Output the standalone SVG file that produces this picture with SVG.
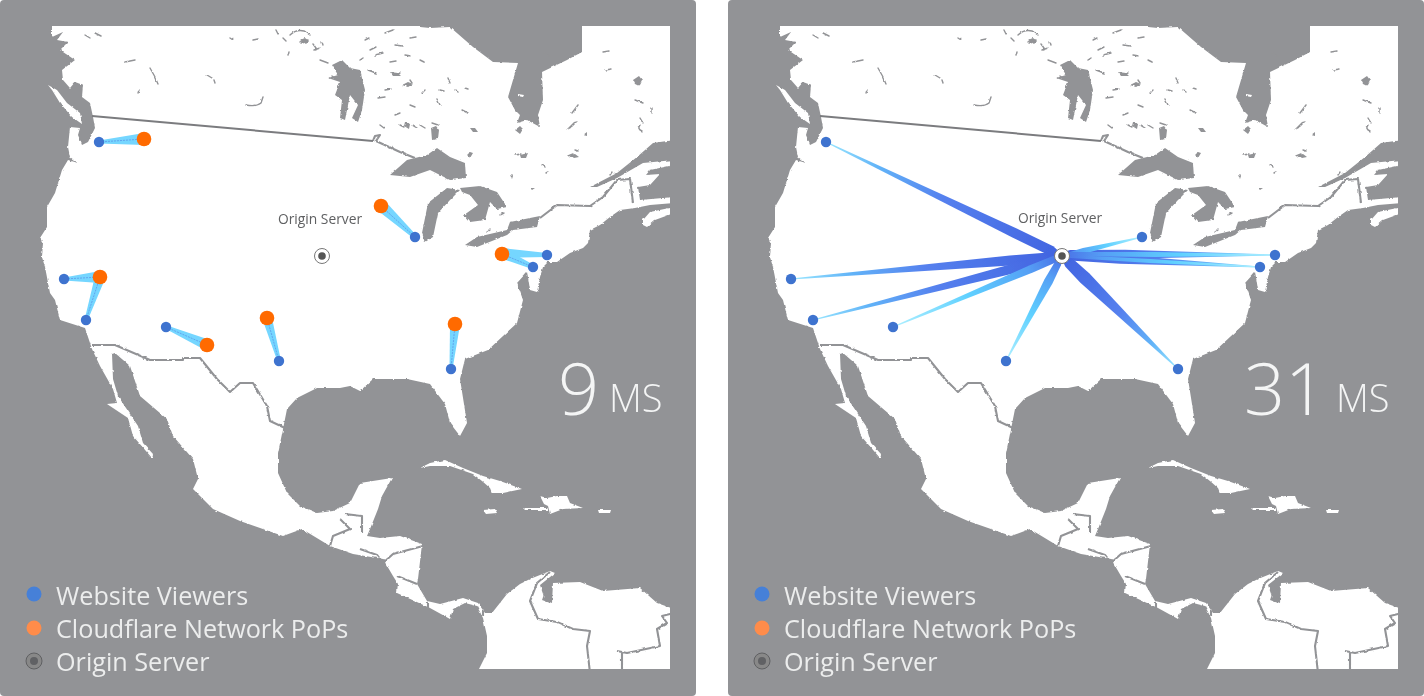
<svg xmlns="http://www.w3.org/2000/svg" width="1424" height="696" viewBox="0 0 1424 696">
<style>
text{font-family:"Open Sans","Liberation Sans",sans-serif}
.panel{fill:#929396}
.land{fill:#fff}
.sea{fill:#929396}
.border{fill:none;stroke:#929396;stroke-width:2.1;stroke-linejoin:round}
.dark{fill:none;stroke:#7b7c7f;stroke-width:2}
.speck{fill:none;stroke:#929396;stroke-width:1.4;stroke-linecap:round}
.lbl{fill:#5f6062;font-size:13.8px}
.leg{fill:#eceded;font-size:25.2px}
.big{fill:#f4f5f5;font-size:72px;font-weight:300}
.ms{fill:#f4f5f5;font-size:38px;font-weight:300}
.v{fill:#3e73cf}
.p{fill:#ff6a00}
.short{fill:#74d6ff}
.core{stroke:#5b8fe6;stroke-width:1;stroke-dasharray:2 1;fill:none;opacity:.7}
</style>
<defs>
<filter id="rough" x="-5%" y="-5%" width="110%" height="110%">
<feTurbulence type="fractalNoise" baseFrequency=".22" numOctaves="2" seed="4" result="n"/>
<feDisplacementMap in="SourceGraphic" in2="n" scale="2.6" xChannelSelector="R" yChannelSelector="G"/>
<feGaussianBlur stdDeviation=".4"/>
</filter>
<filter id="soft" x="-10%" y="-10%" width="120%" height="120%"><feGaussianBlur stdDeviation=".55"/></filter>
<clipPath id="frame"><rect x="30" y="26" width="640" height="643"/></clipPath>
<linearGradient id="beamA" x1="0" y1="0" x2="1" y2="0">
<stop offset="0" stop-color="#9be8ff"/><stop offset=".22" stop-color="#62b4f8"/><stop offset=".5" stop-color="#5580ee"/><stop offset="1" stop-color="#4163e0"/>
</linearGradient>
<linearGradient id="beamB" x1="0" y1="0" x2="1" y2="0">
<stop offset="0" stop-color="#b0f0ff"/><stop offset=".45" stop-color="#5fd0ff"/><stop offset=".8" stop-color="#55a0f5"/><stop offset="1" stop-color="#4a6fe6"/>
</linearGradient>
<g id="map">
<g clip-path="url(#frame)"><g filter="url(#rough)">
<path class="land" d="M52,22H420V27L430,28L450,27L473,47L493,62L518,63L513,80L508,97L515,110L520,115L517,123L527,120L540,127L538,115L543,100L542,72L567,60L582,52V22H674V140L653,143L637,157L617,173L590,187L597,187L617,178L643,163L674,160V165L650,170L646,175L660,174L650,185L638,187L640,200L674,197V203L650,205L635,208L620,210L610,217L600,225L590,230L588,243L583,248L570,253L557,262L548,262L543,267L540,277L537,292L530,290L528,277L527,272L517,283L523,300L517,323L488,350L465,359L460,379L467,423L460,436L450,423L445,404L430,384L407,379L373,379L360,391L350,386L340,388L317,388L297,398L287,409L283,429L278,453L278,473L287,493L300,506L317,513L333,511L350,503L360,483L392,478L382,496L378,509L370,529L367,536L380,538L400,536L422,544L418,579L417,584L427,601L440,604L463,598L478,603L485,613L492,613L507,594L520,584L530,579L550,571L555,573L540,585L545,600L552,603L553,583L580,582L603,591L640,588L657,603L674,609V673H477L487,653L487,636L483,618L477,606L465,603L453,609L450,619L430,608L397,593L398,584L393,576L383,559L353,554L330,546L302,529L283,536L240,521L213,509L193,489L198,479L193,459L173,436L167,419L140,396L130,366L115,353L112,354L113,379L118,396L138,426L143,443L153,454L152,458L133,436L128,418L107,404L117,403L113,389L100,366L92,349L85,328L60,320L55,300L50,293L45,267L42,257L43,243L40,238L47,227L47,207L55,193L62,170L68,160L78,163L70,157L68,147L70,127L80,128L78,135L82,145L88,142L95,128L93,117L90,103L82,97L83,85L75,82L70,88L63,80L62,70L75,60L60,50L68,42L57,40L63,32L52,37Z"/>
<path class="land" d="M48,85L57,90L67,103L80,113L82,124L72,117L60,103L52,90ZM643,220L650,212L674,207V213L655,220L647,227L643,225Z"/>
<path class="sea" d="M390,175L407,160L427,155L437,148L450,157L465,163L466,178L450,180L430,170L410,177ZM422,233L428,203L447,188L460,190L450,200L438,213L433,237L425,242ZM460,188L480,186L497,192L507,207L497,209L490,202L485,220L470,222L464,215L478,205L470,195L462,192ZM465,245L477,237L507,230L510,222L530,218L540,216L537,227L513,230L507,235L477,247Z"/>
<path class="sea" d="M332,65L342,60L350,68L360,70L365,90L362,110L358,122L352,118L358,105L350,95L345,120L340,118L342,100L335,95L340,82L328,78L338,75Z"/>
<path class="land" d="M518,94L524,95L523,97L518,96Z"/>
<path class="land" d="M420,468L430,463L445,460L463,468L483,476L500,481L522,489L503,493L492,493L490,488L482,481L473,474L450,466L430,466ZM483,510L495,509L497,513L486,514ZM523,508L548,508L548,510L525,510ZM540,496L547,498L557,496L567,496L570,503L583,508L563,509L550,514L548,506L544,504ZM598,510L611,510L610,513L599,513Z"/>
<path class="border" d="M345,514L362,516V533M340,519L350,529L333,536L330,546M360,549L377,555L383,563L393,554L423,546M397,576L417,584M428,603V608M483,611V616M550,572L537,583L530,601L538,619L557,622L573,629L590,631L587,646L590,673M617,651L627,653L660,646L657,629L667,623L662,616L674,613M622,653V673"/>
<path class="sea" d="M542,600L547,586L552,594L550,603Z"/>
<path class="border" d="M92,345H115L150,360H183V358H200L217,379L230,392L240,383H253L267,406L270,421L285,428M540,218L557,205L590,206L603,197L617,180L630,179L633,203"/>
<path class="border" d="M373,141L375,136L380,135L376,141L400,152L415,158"/>
<path class="speck" d="M125,62l10,-2M150,68q5,8 8,16M139,90l-1,3M207,75l5,3M214,80l1,3M246,105q10,2 15,-2l2,-6M85,35l5,3M95,33l6,3M230,38l3,2M253,40l5,-1M276,30l2,4M283,38l3,3M290,35q6,-6 14,-4l6,4M300,42l8,-2M313,44l3,4M322,42l1,3M289,52l-1,4M314,50l6,-2M320,60l8,3M332,76l3,2M385,33l8,-3M370,50l6,-3M375,55l8,-2M390,62l6,-1M368,70l8,3M395,75l5,-2M410,80l2,3M385,90l6,-1M425,90l-3,3M440,90l4,1M455,90l3,2M378,98l7,-1M395,115l5,-2M410,105l5,2M380,125l4,3M400,125l4,2M412,125l5,3M432,123l6,2M440,105l-3,-6M450,83l-2,-5M420,125l5,3M515,155l6,-1M568,156l5,-2M545,53l5,3M603,52l6,-1M605,70l7,-1M635,100l8,3M652,108v5M545,167l-3,-2M548,172l-2,1M612,172l-2,3M365,40l4,-2M405,55l6,1M420,60l4,2M410,38l6,-1M395,45l7,1M360,60l3,-2M465,88l3,1M462,110l6,3"/>
<path class="sea" d="M300,40l5,-2l4,3l-3,3ZM402,85l6,-3l5,2l-5,3ZM390,72l8,1l3,3l-8,0ZM405,122l5,2l-1,5l-5,-3ZM431,128l5,-2l3,4l-1,9l-6,1ZM515,130l5,-4l3,3l-3,5ZM520,155l8,-2l-2,5l-5,0ZM566,130l8,-8l4,-1l-6,6ZM470,128l5,0l3,4l-5,0ZM570,155l5,-1l4,3l-5,1ZM633,80l6,-4l3,4l-3,6l-4,-2ZM467,155l3,-3l3,1l-3,5ZM583,135l4,-3l0,4ZM510,175l3,1l-1,3ZM530,188l5,0l-3,2Z"/>
<path class="speck" d="M572,113l6,-8M575,150l3,1M640,125q-3,4 2,6M640,118l3,5M490,230l-3,2M500,215l4,-2M485,190l3,-1"/>
</g></g>
<path class="dark" d="M92,116L373,141"/>
</g>
</defs>

<g id="panel-left">
<rect class="panel" x="0" y="0" width="696" height="696" rx="4"/>
<use href="#map"/>
</g>
<g id="panel-right">
<rect class="panel" x="728" y="0" width="696" height="696" rx="4"/>
<use href="#map" x="728"/>
</g>

<g id="connectors-left" filter="url(#soft)">
<polygon class="short" points="99,140.500 144,133 144,145 99,143.500"/>
<polygon class="short" points="64,277.500 100,271 100,283 64,280.500"/>
<polygon class="short" points="84.500,320 95,276 105,279 87.500,320.500"/>
<polygon class="short" points="167,325.500 210,340 205,350 165,328.500"/>
<polygon class="short" points="262,318 272,318 281,361 277.500,361.500"/>
<polygon class="short" points="385,201 377,210 413,238 417,236"/>
<polygon class="short" points="502,248 547,253 547,257 500,258"/>
<polygon class="short" points="505,249 500,258 532,269 534,265"/>
<polygon class="short" points="450,324 460,325 452.500,369 449.500,369"/>
<path class="core" d="M99,142L144,139M100,277L64,279M86,320L100,277M166,327L207,345M279,361L267,318M415,237L381,206M533,267L502,254M451,369L455,324"/>
</g>

<g id="connectors-right" filter="url(#soft)">
<g fill="url(#beamA)">
<polygon points="0,-.5 210,-5 250,-5 262,-1.500 262,1.500 250,5 210,5 0,.5" transform="translate(826,142) rotate(25.790)"/>
<polygon points="0,-.5 220,-5 262,-4.500 271,-1.500 271,1.500 262,4.500 220,5 0,.5" transform="translate(791,279) rotate(-4.850)"/>
<polygon points="0,-.5 210,-5 248,-4 257,-1.500 257,1.500 248,4 210,5 0,.5" transform="translate(813,320) rotate(-14.400)"/>
<polygon points="0,-.5 130,-6.500 152,-5.500 162,-1.500 162,1.500 152,5.500 130,6.500 0,.5" transform="translate(1178,369) rotate(-135.700)"/>
<polygon points="0,-.5 150,-4.500 205,-4 214,-1 214,1 205,4 150,4.500 0,.5" transform="translate(1275,255) rotate(180.270)"/>
<polygon points="0,-.5 140,-4.500 190,-4 198,-1 198,1 190,4 140,4.500 0,.5" transform="translate(1260,267) rotate(183.180)"/>
</g>
<g fill="url(#beamB)">
<polygon points="0,-.5 150,-4 175,-3.500 183,-1.500 183,1.500 175,3.500 150,4 0,.5" transform="translate(893,327) rotate(-22.790)"/>
<polygon points="0,-.5 90,-4.500 110,-3.500 118,-1.500 118,1.500 110,3.500 90,4.500 0,.5" transform="translate(1006,361) rotate(-61.930)"/>
<polygon points="0,-.5 60,-3 82,-1.500 82,1.500 60,3 0,.5" transform="translate(1142,237) rotate(166.640)"/>
<polygon points="0,-.5 120,-2.500 214,-2 214,2 120,2.500 0,.5" transform="translate(1275,255) rotate(180.270)"/>
<polygon points="0,-.5 110,-2 198,-1.500 198,1.500 110,2 0,.5" transform="translate(1260,267) rotate(183.180)"/>
</g>
</g>

<g id="left-viewers">
<circle class="v" cx="99" cy="142" r="5.200"/><circle class="v" cx="64" cy="279" r="5.200"/><circle class="v" cx="86" cy="320" r="5.200"/><circle class="v" cx="166" cy="327" r="5.200"/><circle class="v" cx="279" cy="361" r="5.200"/><circle class="v" cx="415" cy="237" r="5.200"/><circle class="v" cx="533" cy="267" r="5.200"/><circle class="v" cx="547" cy="255" r="5.200"/><circle class="v" cx="451" cy="369" r="5.200"/>
</g>
<g id="left-pops">
<circle class="p" cx="144" cy="139" r="7.300"/><circle class="p" cx="100" cy="277" r="7.300"/><circle class="p" cx="207" cy="345" r="7.300"/><circle class="p" cx="267" cy="318" r="7.300"/><circle class="p" cx="381" cy="206" r="7.300"/><circle class="p" cx="502" cy="254" r="7.300"/><circle class="p" cx="455" cy="324" r="7.300"/>
</g>
<g id="left-origin">
<circle cx="322" cy="256" r="7.500" fill="#fff" stroke="#777" stroke-width="1"/><circle cx="322" cy="256" r="3.800" fill="#555"/>
<text class="lbl" x="278" y="224">Origin Server</text>
</g>
<g id="right-viewers">
<circle class="v" cx="826" cy="142" r="5.200"/><circle class="v" cx="791" cy="279" r="5.200"/><circle class="v" cx="813" cy="320" r="5.200"/><circle class="v" cx="893" cy="327" r="5.200"/><circle class="v" cx="1006" cy="361" r="5.200"/><circle class="v" cx="1142" cy="237" r="5.200"/><circle class="v" cx="1260" cy="267" r="5.200"/><circle class="v" cx="1275" cy="255" r="5.200"/><circle class="v" cx="1178" cy="369" r="5.200"/>
</g>
<g id="right-origin">
<circle cx="1062" cy="256" r="7.500" fill="#fff" stroke="#777" stroke-width="1"/><circle cx="1062" cy="256" r="3.800" fill="#555"/>
<text class="lbl" x="1018" y="223">Origin Server</text>
</g>

<g id="left-legend">
<circle cx="34" cy="594" r="7.500" fill="#4680d8"/><text class="leg" x="56" y="605">Website Viewers</text>
<circle cx="34" cy="628" r="7.500" fill="#ff8c4a"/><text class="leg" x="56" y="638">Cloudflare Network PoPs</text>
<circle cx="34" cy="661" r="8" fill="#888" stroke="#5f6062" stroke-width="1"/><circle cx="34" cy="661" r="4" fill="#606164"/><text class="leg" x="56" y="671">Origin Server</text>
</g>
<g id="right-legend">
<circle cx="762" cy="594" r="7.500" fill="#4680d8"/><text class="leg" x="784" y="605">Website Viewers</text>
<circle cx="762" cy="628" r="7.500" fill="#ff8c4a"/><text class="leg" x="784" y="638">Cloudflare Network PoPs</text>
<circle cx="762" cy="661" r="8" fill="#888" stroke="#5f6062" stroke-width="1"/><circle cx="762" cy="661" r="4" fill="#606164"/><text class="leg" x="784" y="671">Origin Server</text>
</g>
<g id="left-time"><text class="big" x="558" y="415">9</text><text class="ms" x="609" y="412">MS</text></g>
<g id="right-time"><text class="big" x="1244" y="415">31</text><text class="ms" x="1336" y="412">MS</text></g>
</svg>
